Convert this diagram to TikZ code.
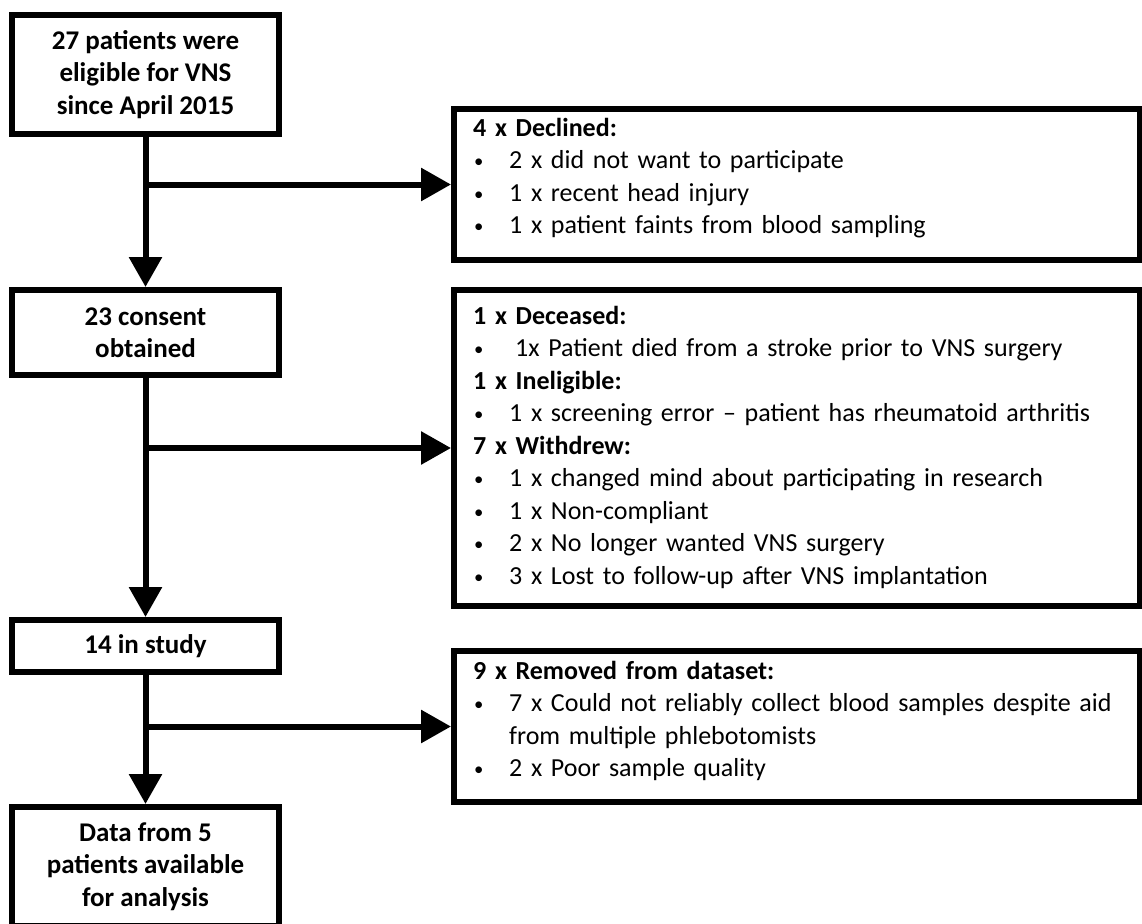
\documentclass[tikz,border=0pt]{standalone}
\usepackage{fontspec}
\setmainfont{Carlito}
\usepackage{graphicx}
\usetikzlibrary{arrows.meta}

% list text size and line pitch
\newcommand{\listfont}{\fontsize{26}{32.5}\selectfont}

\tikzset{
  flowline/.style={line width=6pt, line cap=butt},
  flowarrow/.style={flowline, -{Triangle[length=30pt,width=32pt]}},
  leftbox/.style={draw, line width=6pt, rectangle, inner sep=0pt,
    minimum width=267pt, align=center,
    font=\fontsize{27}{32.5}\selectfont\bfseries},
  rightbox/.style={draw, line width=6pt, rectangle, inner sep=0pt,
    minimum width=685.5pt},
  listtext/.style={inner sep=0pt, anchor=base west, text width=660pt, align=left,
    font=\listfont},
}
\newcommand{\listdot}{\raisebox{1pt}{\scalebox{0.72}{\textbullet}}}
\newcommand{\bul}{\makebox[39pt][l]{\hspace*{4pt}\listdot}}
\newcommand{\bulwide}{\makebox[45pt][l]{\hspace*{4pt}\listdot}}

\begin{document}
\begin{tikzpicture}[x=1pt, y=-1pt]
\useasboundingbox (0,0) rectangle (1142,923);
\clip (0,0) rectangle (1142,923);

% main flow column
\node[leftbox, minimum height=119pt] (elig) at (145.5,74.5)
  {27 patients were\\eligible for VNS\\since April 2015};
\node[leftbox, minimum height=85pt] (cons) at (145.5,332.5)
  {23 consent\\obtained};
\node[leftbox, minimum height=52pt] (study) at (145.5,646)
  {14 in study};
\node[leftbox, minimum height=119pt] (data) at (145.5,866.5)
  {Data from 5\\patients available\\for analysis};

% exclusion boxes
\node[rightbox, minimum height=151pt] (decl) at (796.75,184.5) {};
\node[rightbox, minimum height=316pt] (lost) at (796.75,448) {};
\node[rightbox, minimum height=151pt] (rem) at (796.75,726.5) {};

\node[listtext] (declt) at (470,136) {%
  \hspace*{3pt}\textbf{4 x Declined:}\\
  \bul 2 x did not want to participate\\
  \bul 1 x recent head injury\\
  \bul 1 x patient faints from blood sampling};

\node[listtext] (lostt) at (470,324) {%
  \hspace*{3pt}\textbf{1 x Deceased:}\\
  \bulwide 1x Patient died from a stroke prior to VNS surgery\\
  \hspace*{3pt}\textbf{1 x Ineligible:}\\
  \bul 1 x screening error -- patient has rheumatoid arthritis\\
  \hspace*{3pt}\textbf{7 x Withdrew:}\\
  \bul 1 x changed mind about participating in research\\
  \bul 1 x Non-compliant\\
  \bul 2 x No longer wanted VNS surgery\\
  \bul 3 x Lost to follow-up after VNS implantation};

\node[listtext] (remt) at (470,679) {%
  \hspace*{3pt}\textbf{9 x Removed from dataset:}\\
  \bul 7 x Could not reliably collect blood samples despite aid\\
  \hspace*{39pt}from multiple phlebotomists\\
  \bul 2 x Poor sample quality};

% connectors
\draw[flowarrow] (elig.south) -- (cons.north);
\draw[flowarrow] (elig.south |- decl.west) -- (decl.west);
\draw[flowarrow] (cons.south) -- (study.north);
\draw[flowarrow] (cons.south |- lost.west) -- (lost.west);
\draw[flowarrow] (study.south) -- (data.north);
\draw[flowarrow] (study.south |- rem.west) -- (rem.west);
\end{tikzpicture}
\end{document}
